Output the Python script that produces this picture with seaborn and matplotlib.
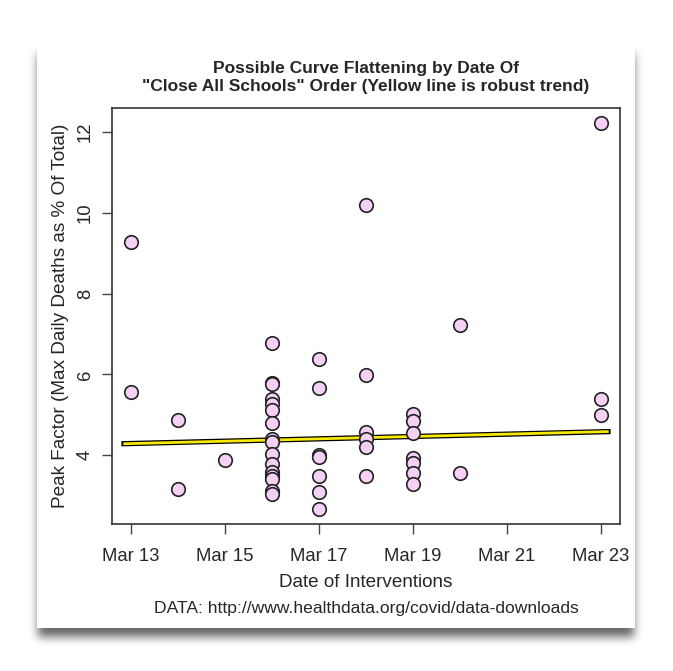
import numpy as np
import pandas as pd
import seaborn as sns
import matplotlib.pyplot as plt
from matplotlib.patches import Rectangle

# days after Mar 13 for each country/region and its peak factor
day_offset = [0, 0,
              1, 1,
              2,
              3, 3, 3, 3, 3, 3, 3, 3, 3, 3, 3, 3, 3, 3, 3, 3,
              4, 4, 4, 4, 4, 4, 4,
              5, 5, 5, 5, 5, 5,
              6, 6, 6, 6, 6, 6, 6,
              7, 7,
              10, 10, 10]
peak_factor = [9.27, 5.56,
               4.87, 3.16,
               3.88,
               6.78, 5.79, 5.76, 5.39, 5.26, 5.13, 4.80, 4.41, 4.33, 4.02, 3.79, 3.59, 3.49, 3.40, 3.11, 3.03,
               6.38, 5.67, 4.00, 3.96, 3.49, 3.08, 2.68,
               10.19, 5.98, 4.58, 4.41, 4.21, 3.48,
               5.03, 4.85, 4.55, 3.92, 3.81, 3.55, 3.30,
               7.22, 3.55,
               12.21, 5.40, 4.99]

# robust trend: value at first and last intervention date
trend_days = [0, 10]
trend_vals = [4.29, 4.58]

tick_days = [0, 2, 4, 6, 8, 10]
tick_labels = ["Mar 13", "Mar 15", "Mar 17", "Mar 19", "Mar 21", "Mar 23"]

df = pd.DataFrame({"day": day_offset, "peak": peak_factor})

sns.set_style("ticks")
plt.rcParams['font.family'] = ['Liberation Sans', 'DejaVu Sans']

W, H = 673, 671
fig = plt.figure(figsize=(W / 100, H / 100), dpi=100)
fig.patch.set_facecolor("white")

# card with a blurred drop shadow
cx0, cy0, cx1, cy1 = 37, 45, 635, 628   # card edges in px from top-left
mask = np.zeros((H, W))
off = 9
mask[cy0 + off:cy1 + off, cx0 + 1:cx1 - 1] = 1.0
k = np.ones(9) / 9
for _ in range(3):
    mask = np.apply_along_axis(lambda r: np.convolve(r, k, mode="same"), 0, mask)
    mask = np.apply_along_axis(lambda r: np.convolve(r, k, mode="same"), 1, mask)
shade = np.zeros((H, W, 4))
shade[..., 3] = 0.6 * mask
fig.figimage(shade, 0, 0, origin="upper", zorder=0)

card = Rectangle((cx0 / W, (H - cy1) / H), (cx1 - cx0) / W, (cy1 - cy0) / H,
                 transform=fig.transFigure, facecolor="white", edgecolor="none", zorder=1)
fig.patches.append(card)

ax = fig.add_axes([112 / W, (H - 524) / H, 508 / W, 416 / H])
ax.set_zorder(2)

sns.scatterplot(data=df, x="day", y="peak", ax=ax, s=95, color="#f4d0f4",
                edgecolor="#222222", linewidth=1.2, zorder=3)

# yellow line with black outline, slightly past the outer dates
span = np.array(trend_days, dtype=float)
vals = np.array(trend_vals, dtype=float)
slope = (vals[1] - vals[0]) / (span[1] - span[0])
xs = np.array([span[0] - 0.2, span[1] + 0.2])
ys = vals[0] + slope * (xs - span[0])
ax.plot(xs, ys, color="black", lw=3.8, solid_capstyle="butt", zorder=2)
ax.plot(xs + np.array([0.04, -0.04]), ys, color="#f7e900", lw=2.0,
        solid_capstyle="butt", zorder=2)

x_lo, x_hi = min(day_offset), max(day_offset)
y_lo, y_hi = min(peak_factor), max(peak_factor)
ax.set_xlim(x_lo - 0.04 * (x_hi - x_lo), x_hi + 0.04 * (x_hi - x_lo))
ax.set_ylim(y_lo - 0.04 * (y_hi - y_lo), y_hi + 0.04 * (y_hi - y_lo))

ax.set_xticks(tick_days)
ax.set_xticklabels(tick_labels, fontsize=13.3)
ax.set_yticks([4, 6, 8, 10, 12])
ax.set_yticklabels(["4", "6", "8", "10", "12"], fontsize=13.3, rotation=90, va="center")
ax.tick_params(axis="x", length=7, width=1, color="#444444", pad=10)
ax.tick_params(axis="y", length=7, width=1, color="#444444", pad=6)
for sp in ax.spines.values():
    sp.set_visible(True)
    sp.set_color("#333333")
    sp.set_linewidth(1.2)

ax.set_xlabel("Date of Interventions", fontsize=13.6, labelpad=7)
ax.set_ylabel("Peak Factor (Max Daily Deaths as % Of Total)", fontsize=13.7, labelpad=6)
ax.set_title("Possible Curve Flattening by Date Of\n\"Close All Schools\" Order (Yellow line is robust trend)",
             fontsize=12.5, fontweight="bold", pad=12, linespacing=1.25)

fig.text(366 / W, 1 - 608 / H, "DATA: http://www.healthdata.org/covid/data-downloads",
         ha="center", va="center", fontsize=12.6, zorder=3)

plt.savefig("out.png", dpi=100)
